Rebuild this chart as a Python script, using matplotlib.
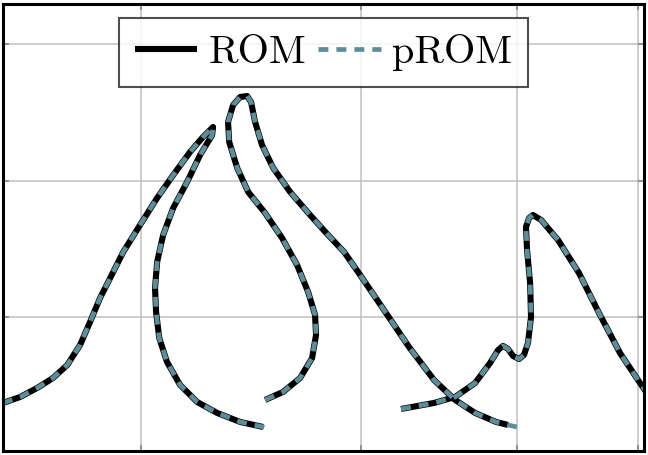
import matplotlib
matplotlib.use("Agg")
import matplotlib.pyplot as plt
from matplotlib.ticker import FixedLocator, NullLocator, NullFormatter

plt.rcParams['font.family'] = ['cmr10', 'DejaVu Serif']
plt.rcParams['axes.formatter.use_mathtext'] = True

# ---- data ----
rom_a_x = [1.550, 1.600, 1.651, 1.700, 1.745, 1.787, 1.820, 1.854, 1.889, 1.935,
           1.996, 2.060, 2.122, 2.189, 2.242, 2.284, 2.280, 2.230, 2.177, 2.122,
           2.083, 2.060, 2.052, 2.056, 2.068, 2.098, 2.149, 2.218, 2.301, 2.401,
           2.505]
rom_a_y = [0.370, 0.414, 0.480, 0.553, 0.648, 0.795, 0.963, 1.139, 1.286, 1.476,
           1.674, 1.872, 2.040, 2.209, 2.319, 2.392, 2.333, 2.187, 1.989, 1.799,
           1.601, 1.403, 1.212, 1.037, 0.846, 0.670, 0.502, 0.377, 0.297, 0.231,
           0.194]

rom_b_x = [2.514, 2.599, 2.682, 2.742, 2.762, 2.757, 2.722, 2.667, 2.594, 2.514,
           2.437, 2.388, 2.353, 2.348, 2.370, 2.401, 2.432, 2.450, 2.468, 2.500,
           2.552, 2.633, 2.732, 2.824, 2.909, 2.996, 3.131, 3.279, 3.434, 3.570,
           3.704, 3.850, 3.936]
rom_b_y = [0.392, 0.451, 0.553, 0.700, 0.868, 1.015, 1.183, 1.381, 1.579, 1.762,
           1.916, 2.092, 2.282, 2.429, 2.553, 2.612, 2.619, 2.575, 2.429, 2.260,
           2.092, 1.916, 1.747, 1.601, 1.476, 1.308, 1.051, 0.780, 0.538, 0.392,
           0.297, 0.231, 0.209]

rom_c_x = [3.231, 3.434, 3.570, 3.704, 3.808, 3.865, 3.900, 3.936, 3.973, 4.017,
           4.054, 4.084, 4.107, 4.100, 4.077, 4.069, 4.092, 4.122, 4.184, 4.317,
           4.487, 4.656, 4.840, 4.985, 5.097]
rom_c_y = [0.326, 0.370, 0.414, 0.516, 0.663, 0.758, 0.788, 0.766, 0.714, 0.692,
           0.722, 0.810, 1.000, 1.249, 1.491, 1.659, 1.725, 1.747, 1.711, 1.564,
           1.322, 1.029, 0.736, 0.560, 0.429]

# pROM nearly coincides with ROM, running slightly further at the ends
prom_a_x = rom_a_x + [2.537]
prom_a_y = rom_a_y + [0.180]
prom_b_x = rom_b_x + [4.032]
prom_b_y = rom_b_y + [0.187]
prom_c_x = rom_c_x
prom_c_y = rom_c_y

x_ticks = [2, 3, 4, 5]
y_ticks = [1, 2, 3]

# ---- figure ----
fig = plt.figure(figsize=(6.48, 4.55), dpi=100)
ax = fig.add_axes([3 / 648, 4 / 455, 641 / 648, 447.5 / 455])

rom_color = 'black'
prom_color = '#5e8c98'

for i, (xs, ys) in enumerate([(rom_a_x, rom_a_y), (rom_b_x, rom_b_y), (rom_c_x, rom_c_y)]):
    ax.plot(xs, ys, color=rom_color, lw=4.4, solid_capstyle='butt',
            solid_joinstyle='round', label='ROM' if i == 0 else None, zorder=3)
for i, (xs, ys) in enumerate([(prom_a_x, prom_a_y), (prom_b_x, prom_b_y), (prom_c_x, prom_c_y)]):
    ax.plot(xs, ys, color=prom_color, lw=3.4, dashes=(2.1, 1.7),
            dash_capstyle='butt', dash_joinstyle='round',
            label='pROM' if i == 0 else None, zorder=4)

ax.set_xscale('log')
ax.set_xlim(1.550, 5.059)
ax.set_ylim(0.018, 3.297)
ax.xaxis.set_major_locator(FixedLocator(x_ticks))
ax.xaxis.set_minor_locator(NullLocator())
ax.yaxis.set_major_locator(FixedLocator(y_ticks))
ax.xaxis.set_major_formatter(NullFormatter())
ax.xaxis.set_minor_formatter(NullFormatter())
ax.yaxis.set_major_formatter(NullFormatter())
ax.grid(True, color='#c0c0c0', lw=1.1, zorder=0)
ax.tick_params(direction='in', length=4.3, width=1.1, color='#808080',
               top=True, right=True, bottom=True, left=True)
for s in ax.spines.values():
    s.set_linewidth(2.2)
    s.set_color('black')
    s.set_zorder(6)

leg = ax.legend(loc='upper center', bbox_to_anchor=(0.5, 0.967), ncol=2,
                fontsize=29, frameon=True, fancybox=False, edgecolor='#222222',
                handlelength=1.55, handletextpad=0.28, columnspacing=0.3,
                borderpad=0.4, borderaxespad=0.0)
leg.get_frame().set_linewidth(1.5)
leg.set_zorder(10)

fig.savefig('out.png', dpi=100)
